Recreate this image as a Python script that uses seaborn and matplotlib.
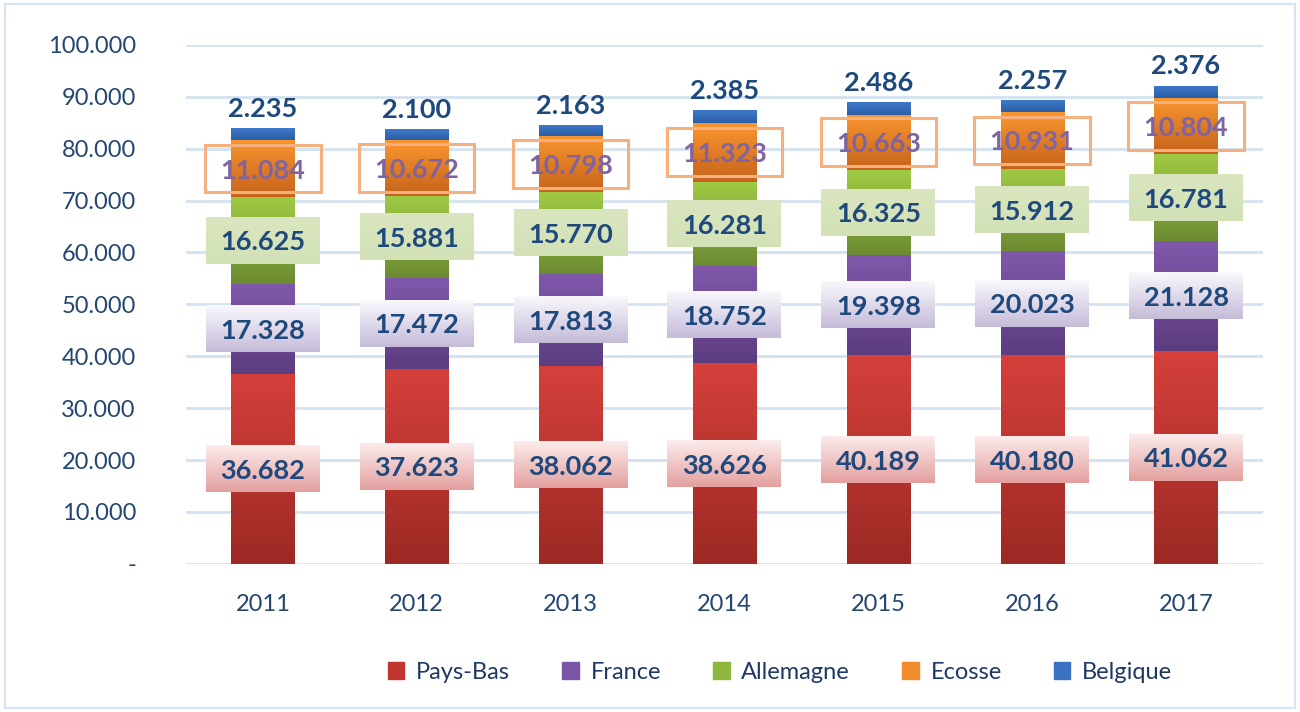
import numpy as np
import matplotlib
matplotlib.use("Agg")
import matplotlib.pyplot as plt
from matplotlib.colors import LinearSegmentedColormap
from matplotlib.patches import Rectangle
from matplotlib.ticker import FuncFormatter
import seaborn as sns

# data
years = ["2011", "2012", "2013", "2014", "2015", "2016", "2017"]
pays_bas = [36682, 37623, 38062, 38626, 40189, 40180, 41062]
france = [17328, 17472, 17813, 18752, 19398, 20023, 21128]
allemagne = [16625, 15881, 15770, 16281, 16325, 15912, 16781]
ecosse = [11084, 10672, 10798, 11323, 10663, 10931, 10804]
belgique = [2235, 2100, 2163, 2385, 2486, 2257, 2376]

series_names = ["Pays-Bas", "France", "Allemagne", "Ecosse", "Belgique"]
series_vals = [pays_bas, france, allemagne, ecosse, belgique]

# (top colour, bottom colour, legend colour)
bar_colors = [
    ("#d5403b", "#9c2924", "#c0362f"),
    ("#8058ab", "#5c3d80", "#7a55a5"),
    ("#a0ca44", "#6c8b32", "#8db83d"),
    ("#fa962f", "#c5631c", "#f28b2b"),
    ("#4079ca", "#2a5da6", "#3a71c0"),
]

sns.set_style("white")
plt.rcParams["font.family"] = ["Lato", "DejaVu Sans"]

NAVY = "#1f497d"
TICK = "#24466f"

fig = plt.figure(figsize=(13, 7.12), dpi=100)
ax = fig.add_axes([0.143, 0.208, 0.8285, 0.729])


def grad_fill(x0, x1, y0, y1, c_top, c_bot, clip=None, z=3):
    cmap = LinearSegmentedColormap.from_list("g", [c_bot, c_top])
    im = ax.imshow(np.linspace(0, 1, 128).reshape(-1, 1), cmap=cmap,
                   extent=[x0, x1, y0, y1], origin="lower", aspect="auto",
                   interpolation="bilinear", zorder=z)
    if clip is not None:
        im.set_clip_path(clip)
    return im


# stacked bars
bottom = np.zeros(len(years))
segments = []
for name, vals, (ctop, cbot, _) in zip(series_names, series_vals, bar_colors):
    sns.barplot(x=years, y=vals, bottom=bottom, color=ctop, width=0.41,
                saturation=1, ax=ax, zorder=2, linewidth=0)
    cont = ax.containers[-1]
    for p in cont.patches:
        grad_fill(p.get_x(), p.get_x() + p.get_width(),
                  p.get_y(), p.get_y() + p.get_height(), ctop, cbot, clip=p)
    segments.append((bottom.copy(), np.array(vals, dtype=float)))
    bottom = bottom + np.array(vals)

# labels
box_w = 0.74
box_h = 9000
box_styles = [
    ("#fbeceb", "#e3a09f"),
    ("#f9f8fc", "#c5bbd9"),
    ("#d9e6bf", "#d3e1b7"),
]
for i in range(len(years)):
    for k in range(3):
        b, v = segments[k]
        mid = b[i] + v[i] / 2
        grad_fill(i - box_w / 2, i + box_w / 2, mid - box_h / 2, mid + box_h / 2,
                  box_styles[k][0], box_styles[k][1], z=4)
        ax.text(i, mid, f"{v[i] / 1000:.3f}", ha="center", va="center_baseline",
                fontsize=19.5, fontweight="bold", color=NAVY, zorder=5)
    # Ecosse: outlined box, purple text
    b, v = segments[3]
    mid = b[i] + v[i] / 2
    ax.add_patch(Rectangle((i - 0.375, mid - 4600), 0.75, 9200, fill=False,
                           ec="#f5b07d", lw=2.2, zorder=5))
    ax.text(i, mid, f"{v[i] / 1000:.3f}", ha="center", va="center_baseline",
            fontsize=19.5, fontweight="bold", color="#8064a2", zorder=6)
    # Belgique: above the bar
    b, v = segments[4]
    ax.annotate(f"{v[i] / 1000:.3f}", (i, b[i] + v[i]), xytext=(0, 8),
                textcoords="offset points", ha="center", va="baseline",
                fontsize=19.5, fontweight="bold", color=NAVY, zorder=6)

ax.set_xlim(-0.5, len(years) - 0.5)
ax.set_ylim(0, 100000)
ax.set_yticks(np.arange(0, 100001, 10000))
ax.yaxis.set_major_formatter(FuncFormatter(
    lambda v, p: "-" if v == 0 else f"{int(v):,}".replace(",", ".")))
ax.yaxis.grid(True, color="#d3e1f1", lw=2)
ax.set_axisbelow(True)
for s in ax.spines.values():
    s.set_visible(False)
ax.tick_params(axis="y", length=0, pad=36, labelsize=17, labelcolor=TICK)
ax.tick_params(axis="x", length=0, pad=22, labelsize=17, labelcolor=TICK)
ax.set_xlabel("")
ax.set_ylabel("")

handles = [Rectangle((0, 0), 1, 1, color=c[2]) for c in bar_colors]
fig.legend(handles, series_names, loc="center", bbox_to_anchor=(0.6, 0.056),
           ncol=5, frameon=False, fontsize=17, handlelength=0.7,
           handleheight=0.7, columnspacing=2.2, handletextpad=0.5,
           labelcolor="#1f3864")

fig.add_artist(Rectangle((0.004, 0.006), 0.992, 0.988, transform=fig.transFigure,
                         fill=False, ec="#d6e3f2", lw=1.5))

fig.savefig("out.png", dpi=100)
